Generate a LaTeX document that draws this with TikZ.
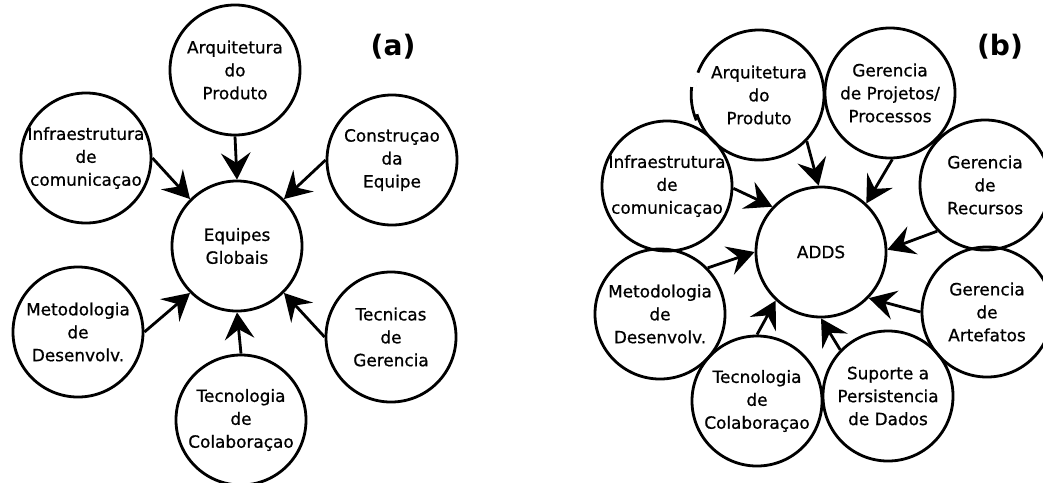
\documentclass[tikz,border=0pt]{standalone}
\usepackage{fontspec}
\setmainfont{DejaVu Sans}
\newfontfamily\modfont{DejaVu Sans}[FakeBold=0.8]
\usetikzlibrary{arrows.meta}

\begin{document}
\begin{tikzpicture}[->,>={Stealth[length=19pt,width=21pt,inset=7pt]},
                    x=0.025cm,y=-0.025cm,line width=2pt,
                    mod/.style={circle,draw,minimum size=3.25cm,inner sep=0pt},
                    lbl/.style={align=center,font=\modfont\fontsize{12}{16.3}\selectfont},
                    tag/.style={font=\fontsize{20}{24}\selectfont\bfseries}]

  \useasboundingbox (0,0) rectangle (1043,482);

  % (a)
  \node[tag] (taga) at (393,47) {(a)};
  \node[mod,label={[lbl]center:{Equipes\\Globais}}]             (eqp)  at (237,246) {};
  \node[mod,label={[lbl]center:{Arquitetura\\do\\Produto}}]     (arqa) at (235,70)  {};
  \node[mod,label={[lbl]center:{Infraestrutura\\de\\comunicaçao}}] (infa) at (86,158) {};
  \node[mod,label={[lbl]center:{Construçao\\da\\Equipe}}]       (cona) at (392,160) {};
  \node[mod,label={[lbl]center:{Metodologia\\de\\Desenvolv.}}]  (meta) at (78,332)  {};
  \node[mod,label={[lbl]center:{Tecnicas\\de\\Gerencia}}]       (gera) at (391,337) {};
  \node[mod,label={[lbl]center:{Tecnologia\\de\\Colaboraçao}}]  (teca) at (241,420) {};

  \path (arqa.south) edge (eqp.north)
        (infa.0)     edge (eqp.135)
        (cona.180)   edge (eqp.45)
        (meta.0)     edge (eqp.225)
        (gera.180)   edge (eqp.-45)
        (teca.north) edge (eqp.south);

  % (b)
  \node[tag] (tagb) at (1000,47) {(b)};
  \node[mod,label={[lbl]center:ADDS}]                           (adds) at (821,252) {};
  \node[mod,label={[lbl]center:{Arquitetura\\do\\Produto}}]     (arqb) at (759,95)  {};
  \node[mod,label={[lbl]center:{Gerencia\\de Projetos/\\Processos}}] (prjb) at (890,93) {};
  \node[mod,label={[lbl]center:{Infraestrutura\\de\\comunicaçao}}] (infb) at (667,186) {};
  \node[mod,label={[lbl]center:{Gerencia\\de\\Recursos}}]       (recb) at (985,185) {};
  \node[mod,label={[lbl]center:{Metodologia\\de\\Desenvolv.}}]  (metb) at (660,314) {};
  \node[mod,label={[lbl]center:{Gerencia\\de\\Artefatos}}]      (artb) at (987,312) {};
  \node[mod,label={[lbl]center:{Tecnologia\\de\\Colaboraçao}}]  (tecb) at (757,401) {};
  \node[mod,label={[lbl]center:{Suporte a\\Persistencia\\de Dados}}] (supb) at (888,396) {};

  % broken stroke on the left of arqb
  \draw[-,white,line width=2.8pt] ([shift={(160:1.625cm)}]arqb.center)
    arc[start angle=160,end angle=197,radius=1.625cm];
  \draw[-] ([shift={(173:1.625cm)},xshift=-2pt]arqb.center)
    arc[start angle=173,end angle=203,radius=1.625cm];

  \path (arqb.-44)  edge (adds.92)
        (prjb.-88)  edge (adds.47)
        (infb.-2)   edge (adds.137)
        (recb.224)  edge (adds.2)
        (metb.44)   edge (adds.180)
        (artb.180)  edge (adds.-44)
        (tecb.90)   edge (adds.227)
        (supb.136)  edge (adds.270);
\end{tikzpicture}
\end{document}
